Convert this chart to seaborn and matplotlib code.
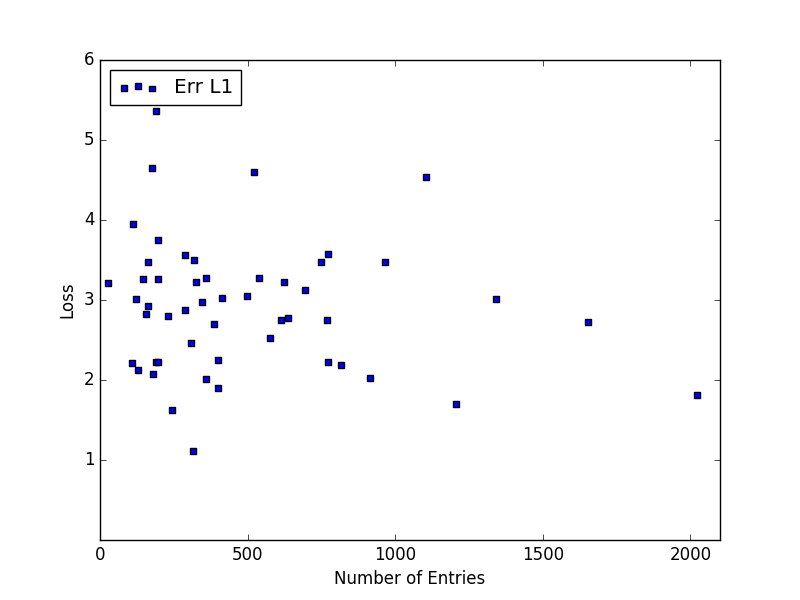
import pandas as pd
import matplotlib
matplotlib.use('Agg')
import matplotlib.pyplot as plt
import seaborn as sns

# values
num_entries = [28, 107, 113, 121, 130, 147, 155, 161, 161, 177,
               178, 188, 189, 195, 195, 198, 232, 243, 287, 287,
               307, 315, 318, 324, 345, 358, 358, 386, 399, 399,
               413, 498, 520, 539, 576, 613, 624, 637, 695, 750,
               770, 773, 773, 817, 916, 967, 1103, 1205, 1341, 1654,
               2021]
loss = [3.21, 2.21, 3.95, 3.01, 2.12, 3.26, 2.82, 3.48, 2.92, 4.65,
        2.08, 5.36, 2.23, 2.23, 3.26, 3.75, 2.80, 1.62, 3.56, 2.88,
        2.46, 1.11, 3.50, 3.23, 2.98, 3.28, 2.01, 2.70, 2.25, 1.90,
        3.03, 3.05, 4.60, 3.28, 2.52, 2.75, 3.22, 2.78, 3.13, 3.48,
        2.75, 3.58, 2.23, 2.19, 2.03, 3.47, 4.54, 1.70, 3.01, 2.73,
        1.81]
x_ticks = [0, 500, 1000, 1500, 2000]
y_ticks = [1, 2, 3, 4, 5, 6]

plot_data = pd.DataFrame({'entries': num_entries, 'loss': loss})

plt.style.use('classic')
fig, ax = plt.subplots(figsize=(8, 6))
sns.scatterplot(data=plot_data, x='entries', y='loss', marker='s', s=16,
                color='b', edgecolor='k', linewidth=1.0, label='Err L1', ax=ax)
ax.set_xlim(0, 2100)
ax.set_ylim(0, 6)
ax.set_xticks(x_ticks)
ax.set_yticks(y_ticks)
ax.set_xlabel('Number of Entries')
ax.set_ylabel('Loss')
ax.legend(loc='upper left')
plt.savefig('out.png', dpi=100)
